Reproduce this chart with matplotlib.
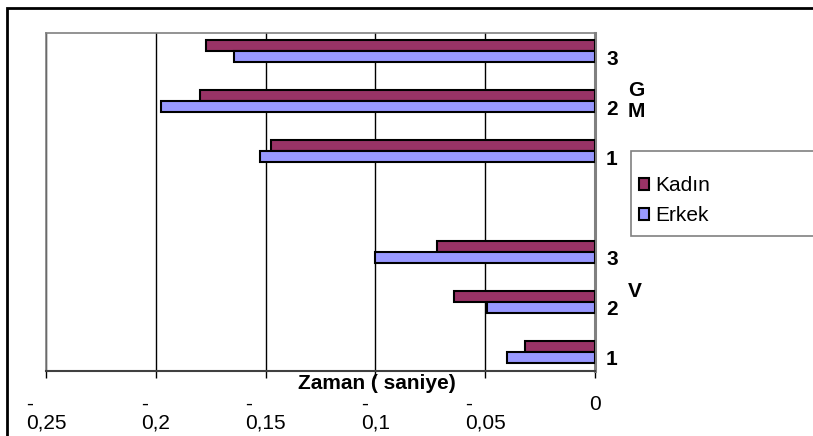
import matplotlib.pyplot as plt
from matplotlib.patches import Rectangle, Patch
from matplotlib.transforms import ScaledTranslation, blended_transform_factory

plt.rcParams['font.family'] = ['Liberation Sans', 'DejaVu Sans']

# veriler (alttan üste: V1, V2, V3, boşluk, GM1, GM2, GM3)
positions = [0, 1, 2, 4, 5, 6]
cat_labels = ['1', '2', '3', '1', '2', '3']
groups = ['V', 'G\nM']
kadin = [-0.032, -0.064, -0.072, -0.1475, -0.180, -0.177]
erkek = [-0.040, -0.049, -0.100, -0.1525, -0.1975, -0.1646]
xticks = [-0.25, -0.2, -0.15, -0.1, -0.05, 0]
xticklabels = ['-\n0,25', '-\n0,2', '-\n0,15', '-\n0,1', '-\n0,05', '0']

c_kadin = '#993366'
c_erkek = '#9999FF'
fs = 15

fig = plt.figure(figsize=(8.13, 4.36), dpi=100)
ax = fig.add_axes([46 / 813, 1 - 371 / 436, 549 / 813, 338 / 436])

h = 0.22
ax.barh([p + h / 2 for p in positions], kadin, height=h, color=c_kadin,
        edgecolor='black', linewidth=1.5, zorder=3)
ax.barh([p - h / 2 for p in positions], erkek, height=h, color=c_erkek,
        edgecolor='black', linewidth=1.5, zorder=3)

ax.set_xlim(-0.25, 0)
ax.set_ylim(-0.38, 6.36)

# eksenler
ax.set_xticks(xticks)
ax.set_xticklabels(xticklabels, fontsize=fs, linespacing=1.0)
for lbl in ax.get_xticklabels():
    lbl.set_multialignment('left')
ax.tick_params(axis='x', length=5, width=1, pad=12, colors='black')
ax.xaxis.grid(True, color='black', linewidth=1, zorder=0)

ax.yaxis.tick_right()
ax.set_yticks(positions)
ax.set_yticklabels(cat_labels, fontsize=fs, fontweight='bold')
ax.tick_params(axis='y', length=0, pad=8)
for lbl in ax.get_yticklabels():
    lbl.set_transform(lbl.get_transform() + ScaledTranslation(0, -6 / 100, fig.dpi_scale_trans))

for s in ['left', 'top']:
    ax.spines[s].set_color('#808080')
    ax.spines[s].set_linewidth(1.2)
ax.spines['right'].set_color('#808080')
ax.spines['right'].set_linewidth(2.2)
ax.spines['bottom'].set_color('#404040')
ax.spines['bottom'].set_linewidth(1.5)

# grup etiketleri
tr = blended_transform_factory(ax.transAxes, ax.transData)
ax.text(1.075, 5.0, groups[1], transform=tr, fontsize=fs, fontweight='bold',
        ha='center', va='center', linespacing=1.1)
ax.text(1.073, 1.2, groups[0], transform=tr, fontsize=fs, fontweight='bold',
        ha='center', va='center')

# eksen başlığı
fig.text(377 / 813, 1 - 383 / 436, 'Zaman ( saniye)', fontsize=fs,
         fontweight='bold', ha='center', va='center')

# lejant
fig.patches.append(Rectangle((631 / 813, 1 - 236 / 436), 0.3, 85 / 436,
                             transform=fig.transFigure, facecolor='white',
                             edgecolor='#808080', linewidth=1.2))
handles = [Patch(facecolor=c_kadin, edgecolor='black', linewidth=1.5),
           Patch(facecolor=c_erkek, edgecolor='black', linewidth=1.5)]
fig.legend(handles, ['Kadın', 'Erkek'], loc='upper left',
           bbox_to_anchor=(639 / 813, 1 - 176 / 436), frameon=False,
           fontsize=fs, handlelength=0.5, handleheight=0.5,
           handletextpad=0.3, labelspacing=0.55, borderpad=0, borderaxespad=0)

# dış çerçeve
fig.patches.append(Rectangle((7 / 813, -0.1), 1.2, 1.1 - 8 / 436,
                             transform=fig.transFigure, facecolor='none',
                             edgecolor='black', linewidth=2))

plt.savefig('out.png', dpi=100)
